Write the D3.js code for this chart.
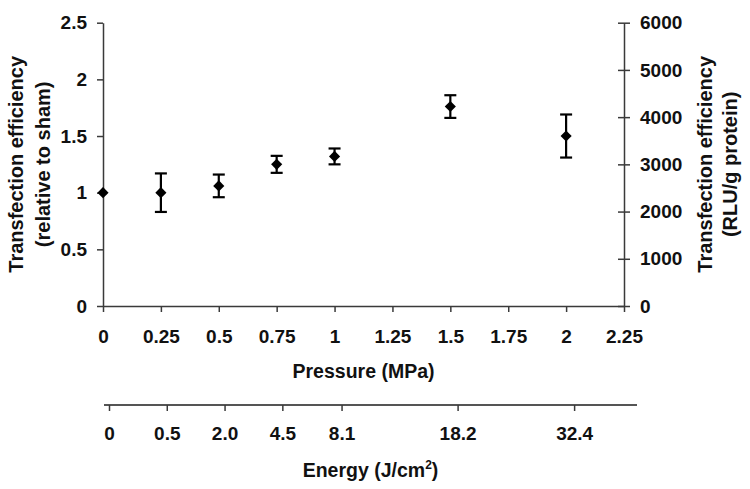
<!DOCTYPE html>
<html>
<head>
<meta charset="utf-8">
<script src="https://cdn.jsdelivr.net/npm/d3@7"></script>
<style>
  html, body { margin: 0; padding: 0; background: #fff; }
  svg { display: block; font-family: "Liberation Sans", Arial, sans-serif; font-weight: bold; }
</style>
</head>
<body>
<svg id="chart" width="750" height="489"></svg>
<script>
// ---- data ----
const pressures   = [0, 0.25, 0.5, 0.75, 1, 1.5, 2];
const efficiency  = [1.0, 1.0, 1.06, 1.25, 1.32, 1.76, 1.50];
const errors      = [0, 0.17, 0.10, 0.075, 0.07, 0.10, 0.19];
const pressureTicks = [0, 0.25, 0.5, 0.75, 1, 1.25, 1.5, 1.75, 2, 2.25];
const leftTicks   = [0, 0.5, 1, 1.5, 2, 2.5];
const rightTicks  = [0, 1000, 2000, 3000, 4000, 5000, 6000];
const energyTicks = [0, 0.5, 2.0, 4.5, 8.1, 18.2, 32.4];
const energyLabels = ["0", "0.5", "2.0", "4.5", "8.1", "18.2", "32.4"];

// ---- layout ----
const plotL = 103, plotR = 624, plotT = 22.7, plotB = 306;
const energyY = 405;
const svg = d3.select("#chart");
const ink = "#111";
const axisStroke = "#3a3a3a";

const x = d3.scaleLinear().domain([0, 2.25]).range([plotL, plotR]);
const y = d3.scaleLinear().domain([0, 2.5]).range([plotB, plotT]);
const y2 = d3.scaleLinear().domain([0, 6000]).range([plotB, plotT]);
// Energy is proportional to pressure squared -> sqrt scale aligns ticks to pressure
const xe = d3.scaleSqrt().domain([0, 32.4]).range([plotL + 6, x(2) + 8]);

function styleAxis(g, fs) {
  g.select(".domain").attr("stroke", axisStroke).attr("stroke-width", 1.5);
  g.selectAll(".tick line").attr("stroke", axisStroke).attr("stroke-width", 1.5);
  g.selectAll(".tick text").attr("fill", ink).style("font-size", fs + "px").style("font-weight", "bold")
    .style("font-family", '"Liberation Sans", Arial, sans-serif');
}

// bottom pressure axis
const gx = svg.append("g").attr("transform", `translate(0,${plotB})`)
  .call(d3.axisBottom(x).tickValues(pressureTicks).tickSize(6).tickSizeOuter(0).tickPadding(18)
    .tickFormat(d => d3.format("")(d)));
styleAxis(gx, 19);

// left axis
const gy = svg.append("g").attr("transform", `translate(${plotL},0)`)
  .call(d3.axisLeft(y).tickValues(leftTicks).tickSize(6).tickSizeOuter(0).tickPadding(10)
    .tickFormat(d => d3.format("")(d)));
styleAxis(gy, 19);

// right axis (ticks cross the axis)
const gy2 = svg.append("g").attr("transform", `translate(${plotR},0)`)
  .call(d3.axisRight(y2).tickValues(rightTicks).tickSize(6).tickSizeOuter(0).tickPadding(10)
    .tickFormat(d3.format("d")));
gy2.selectAll(".tick line").attr("x1", -6);
styleAxis(gy2, 19);

// energy axis
const ge = svg.append("g").attr("transform", `translate(0,${energyY})`)
  .call(d3.axisBottom(xe).tickValues(energyTicks).tickSize(6).tickSizeOuter(0).tickPadding(16)
    .tickFormat((d, i) => energyLabels[i]));
ge.select(".domain").attr("d", `M${plotL + 1},0H${plotR + 13}`);
styleAxis(ge, 19);
ge.select(".domain").attr("stroke", "#555").attr("stroke-width", 2.2);

// axis titles
svg.append("text").attr("x", (plotL + plotR) / 2).attr("y", 378).attr("text-anchor", "middle")
  .attr("fill", ink).style("font-size", "19.5px").text("Pressure (MPa)");
const et = svg.append("text").attr("x", (plotL + plotR + 14) / 2).attr("y", 477).attr("text-anchor", "middle")
  .attr("fill", ink).style("font-size", "19.5px");
et.append("tspan").text("Energy (J/cm");
et.append("tspan").attr("dy", -8).style("font-size", "12px").text("2");
et.append("tspan").attr("dy", 8).text(")");

const cy = (plotT + plotB) / 2;
function vTitle(xc, lines) {
  lines.forEach((t, i) => {
    svg.append("text").attr("transform", `translate(${xc[i]},${cy}) rotate(-90)`)
      .attr("text-anchor", "middle").attr("dy", "0.35em").attr("fill", ink)
      .style("font-size", "20px").text(t);
  });
}
vTitle([16, 43], ["Transfection efficiency", "(relative to sham)"]);
vTitle([705, 730], ["Transfection efficiency", "(RLU/g protein)"]);

// data: error bars + diamonds
const pts = pressures.map((p, i) => ({ p, v: efficiency[i], e: errors[i] }));
const capW = 6;
const eb = svg.append("g").attr("stroke", "#000").attr("stroke-width", 2.2);
pts.filter(d => d.e > 0).forEach(d => {
  eb.append("line").attr("x1", x(d.p)).attr("x2", x(d.p)).attr("y1", y(d.v - d.e)).attr("y2", y(d.v + d.e));
  eb.append("line").attr("x1", x(d.p) - capW).attr("x2", x(d.p) + capW).attr("y1", y(d.v + d.e)).attr("y2", y(d.v + d.e));
  eb.append("line").attr("x1", x(d.p) - capW).attr("x2", x(d.p) + capW).attr("y1", y(d.v - d.e)).attr("y2", y(d.v - d.e));
});
const sym = d3.symbol().type(d3.symbolSquare).size(62);
svg.append("g").selectAll("path").data(pts).join("path")
  .attr("d", sym)
  .attr("transform", d => `translate(${x(d.p)},${y(d.v)}) rotate(45)`)
  .attr("fill", "#000");
</script>
</body>
</html>
